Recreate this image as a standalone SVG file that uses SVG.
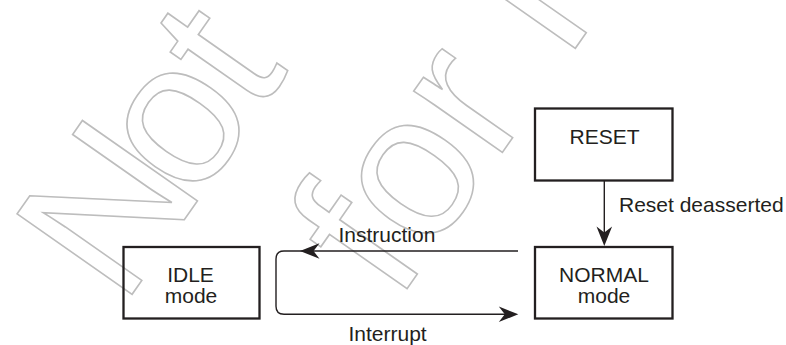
<svg xmlns="http://www.w3.org/2000/svg" width="786" height="345" viewBox="0 0 786 345">
  <style>
    .wm { font-family: "Liberation Sans", Arial, sans-serif; font-size: 204px; fill: none; stroke: #bdbdbd; stroke-width: 1.6; }
    .box { fill: none; stroke: #231f20; stroke-width: 2.3; }
    .lbl { font-family: "Liberation Sans", Arial, sans-serif; font-size: 21px; fill: #231f20; }
    .mid { text-anchor: middle; }
    .edge { fill: none; stroke: #231f20; stroke-width: 1.4; }
    .head { fill: #231f20; stroke: none; }
  </style>
  <defs>
    <path id="ah" d="M0,0 L-19.5,-7.8 L-13.5,0 L-19.5,7.8 Z"/>
  </defs>
  <rect width="786" height="345" fill="#ffffff"/>

  <g id="watermark" transform="rotate(-55)">
    <text class="wm" x="-182 -56 52" y="277">Not</text>
    <text class="wm" x="-21" y="499">for R</text>
  </g>

  <g id="connectors">
    <line class="edge" x1="604.3" y1="181" x2="604.3" y2="234"/>
    <use href="#ah" class="head" transform="translate(604.3,246) rotate(90)"/>
    <path class="edge" d="M518,251 H284 Q276,251 276,259 V306.3 Q276,314.3 284,314.3 H506"/>
    <use href="#ah" class="head" transform="translate(300,251) rotate(180)"/>
    <use href="#ah" class="head" transform="translate(518.3,314.3)"/>
    <text class="lbl" x="619" y="211.7">Reset deasserted</text>
    <text class="lbl" x="338.5" y="241.5">Instruction</text>
    <text class="lbl" x="348.5" y="341">Interrupt</text>
  </g>

  <g id="reset">
    <rect class="box" x="535" y="108.5" width="137.5" height="72"/>
    <text class="lbl mid" x="604.5" y="144.3">RESET</text>
  </g>

  <g id="normal">
    <rect class="box" x="535" y="247" width="137.5" height="71.5"/>
    <text class="lbl mid" x="604" y="282.3">NORMAL</text>
    <text class="lbl mid" x="604" y="303.3">mode</text>
  </g>

  <g id="idle">
    <rect class="box" x="123.5" y="247" width="136" height="71.5"/>
    <text class="lbl mid" x="190.5" y="282.3">IDLE</text>
    <text class="lbl mid" x="191" y="303.3">mode</text>
  </g>
</svg>
